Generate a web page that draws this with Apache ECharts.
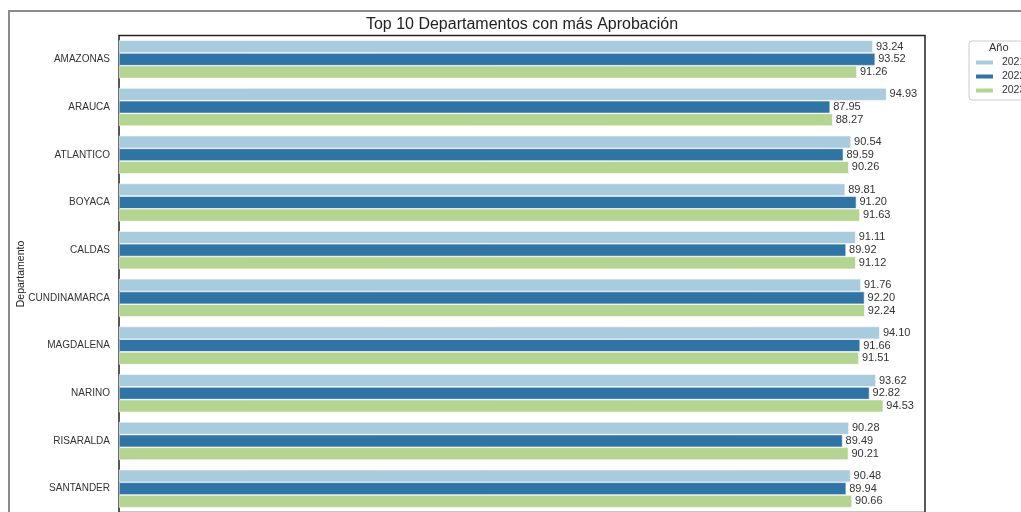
<!DOCTYPE html>
<html>
<head>
    <meta charset="utf-8">
    <title>Top 10 Departamentos</title>
    <script src="https://cdn.jsdelivr.net/npm/echarts@6/dist/echarts.min.js"></script>
    <style>
        html, body { margin: 0; padding: 0; background: #fff; }
        #chart { width: 1021px; height: 512px; }
    </style>
</head>
<body>
<div id="chart"></div>
<script type="text/javascript">
    // datos
    var departamentos = ['AMAZONAS', 'ARAUCA', 'ATLANTICO', 'BOYACA', 'CALDAS',
        'CUNDINAMARCA', 'MAGDALENA', 'NARINO', 'RISARALDA', 'SANTANDER'];
    var anios = ['2021', '2022', '2023'];
    var v2021 = [93.24, 94.93, 90.54, 89.81, 91.11, 91.76, 94.10, 93.62, 90.28, 90.48];
    var v2022 = [93.52, 87.95, 89.59, 91.20, 89.92, 92.20, 91.66, 92.82, 89.49, 89.94];
    var v2023 = [91.26, 88.27, 90.26, 91.63, 91.12, 92.24, 91.51, 94.53, 90.21, 90.66];
    var colores = ['#a9cbde', '#2f74a4', '#b3d591'];

    var font = 'Liberation Sans, Arial, sans-serif';
    var myChart = echarts.init(document.getElementById('chart'));

    function serie(nombre, datos, i) {
        return {
            name: nombre,
            type: 'bar',
            data: datos,
            barWidth: 12.7,
            barGap: '0%',
            itemStyle: { color: colores[i], borderColor: '#fff', borderWidth: 0.6 },
            label: {
                show: true,
                position: 'right',
                distance: 3,
                color: '#333',
                fontFamily: font,
                fontSize: 11,
                formatter: function (p) { return p.value.toFixed(2); }
            }
        };
    }

    myChart.setOption({
        animation: false,
        title: {
            text: 'Top 10 Departamentos con más Aprobación',
            left: 517,
            textAlign: 'center',
            top: 12,
            textStyle: { fontFamily: font, fontSize: 16, fontWeight: 'normal', color: '#222' }
        },
        legend: {
            data: anios,
            orient: 'vertical',
            left: 969,
            top: 41,
            itemWidth: 19,
            itemHeight: 6,
            itemGap: 3,
            padding: [16, 30, 4, 5],
            borderColor: '#ccc',
            borderWidth: 1,
            borderRadius: 3,
            formatter: function (n) { return ' ' + n; },
            textStyle: { fontFamily: font, fontSize: 10.5, color: '#333' }
        },
        grid: {
            left: 119,
            right: 96,
            top: 35.5,
            height: 477,
            outerBoundsMode: 'none',
            show: true,
            borderColor: '#222',
            borderWidth: 1.5,
            backgroundColor: 'transparent'
        },
        xAxis: {
            type: 'value',
            min: 0,
            max: 99.68,
            axisLine: { show: false },
            axisTick: { show: false },
            axisLabel: { show: false },
            splitLine: { show: false }
        },
        yAxis: {
            type: 'category',
            data: departamentos,
            inverse: true,
            name: 'Departamento',
            nameLocation: 'middle',
            nameGap: 92,
            nameMoveOverlap: false,
            nameTextStyle: { fontFamily: font, fontSize: 10.5, color: '#222' },
            axisLine: { show: false },
            axisTick: { show: false },
            axisLabel: { fontFamily: font, fontSize: 10, color: '#333', margin: 9 }
        },
        graphic: [
            {
                type: 'rect',
                shape: { x: 9, y: 11, width: 1100, height: 600 },
                style: { fill: 'none', stroke: '#8c8c8c', lineWidth: 2 },
                silent: true
            },
            {
                type: 'text',
                left: 989,
                top: 42,
                style: { text: 'Año', font: '11px ' + font, fill: '#333' }
            }
        ],
        series: [serie('2021', v2021, 0), serie('2022', v2022, 1), serie('2023', v2023, 2)]
    });
</script>
</body>
</html>
